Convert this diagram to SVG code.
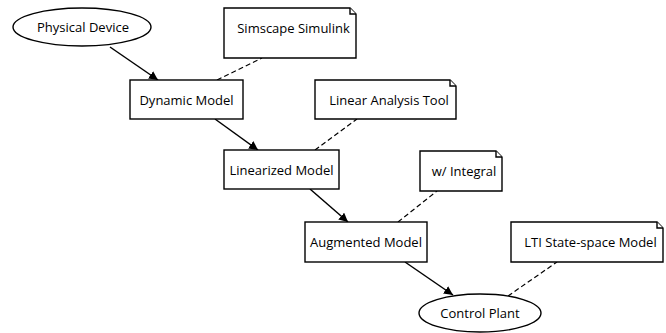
<svg xmlns="http://www.w3.org/2000/svg" width="666" height="333" viewBox="0 0 666 333">
<style>
.n{fill:#fff;stroke:#000;stroke-width:1.4}
.t{font-family:"Open Sans","Noto Sans",sans-serif;font-size:13px;fill:#000;text-anchor:middle;dominant-baseline:central}
.e{stroke:#000;stroke-width:1.5;fill:none}
.d{stroke:#000;stroke-width:1.2;fill:none;stroke-dasharray:5 3}
</style>
<defs>
<marker id="ah" viewBox="0 0 10 10" refX="10" refY="5" markerWidth="9" markerHeight="9" markerUnits="userSpaceOnUse" orient="auto">
<path d="M0,0L10,5L0,10z" fill="#000"/>
</marker>
</defs>
<rect width="666" height="333" fill="#fff"/>
<g id="connectors">
<line class="e" x1="110" y1="47" x2="158" y2="80" marker-end="url(#ah)"/>
<line class="d" x1="217" y1="80" x2="262" y2="58"/>
<line class="e" x1="215" y1="119" x2="258" y2="150" marker-end="url(#ah)"/>
<line class="d" x1="315" y1="150" x2="357" y2="119"/>
<line class="e" x1="310" y1="189" x2="348" y2="222" marker-end="url(#ah)"/>
<line class="d" x1="398" y1="222" x2="437" y2="191"/>
<line class="e" x1="405" y1="262" x2="453" y2="295" marker-end="url(#ah)"/>
<line class="d" x1="508" y1="296" x2="557" y2="262"/>
</g>
<g id="physical-device">
<ellipse class="n" cx="82" cy="27" rx="69" ry="19"/>
<text class="t" x="83" y="27">Physical Device</text>
</g>
<g id="simscape-simulink">
<path class="n" d="M224,8H350L356,14V58H224Z"/>
<path class="n" d="M350,8V14H356"/>
<text class="t" x="293.5" y="28">Simscape Simulink</text>
</g>
<g id="dynamic-model">
<rect class="n" x="130" y="80" width="113" height="39"/>
<text class="t" x="186.5" y="99.5">Dynamic Model</text>
</g>
<g id="linear-analysis-tool">
<path class="n" d="M315,80H450L456,86V119H315Z"/>
<path class="n" d="M450,80V86H456"/>
<text class="t" x="389" y="99.5">Linear Analysis Tool</text>
</g>
<g id="linearized-model">
<rect class="n" x="224" y="150" width="115" height="39"/>
<text class="t" x="281.5" y="169.5">Linearized Model</text>
</g>
<g id="w-integral">
<path class="n" d="M420,151H496L502,157V191H420Z"/>
<path class="n" d="M496,151V157H502"/>
<text class="t" x="464" y="171">w/ Integral</text>
</g>
<g id="augmented-model">
<rect class="n" x="305" y="222" width="122" height="40"/>
<text class="t" x="366" y="242">Augmented Model</text>
</g>
<g id="lti-state-space-model">
<path class="n" d="M511,222H657L663,228V262H511Z"/>
<path class="n" d="M657,222V228H663"/>
<text class="t" x="590.5" y="242">LTI State-space Model</text>
</g>
<g id="control-plant">
<ellipse class="n" cx="480" cy="313" rx="61" ry="19"/>
<text class="t" x="480" y="313">Control Plant</text>
</g>
</svg>
